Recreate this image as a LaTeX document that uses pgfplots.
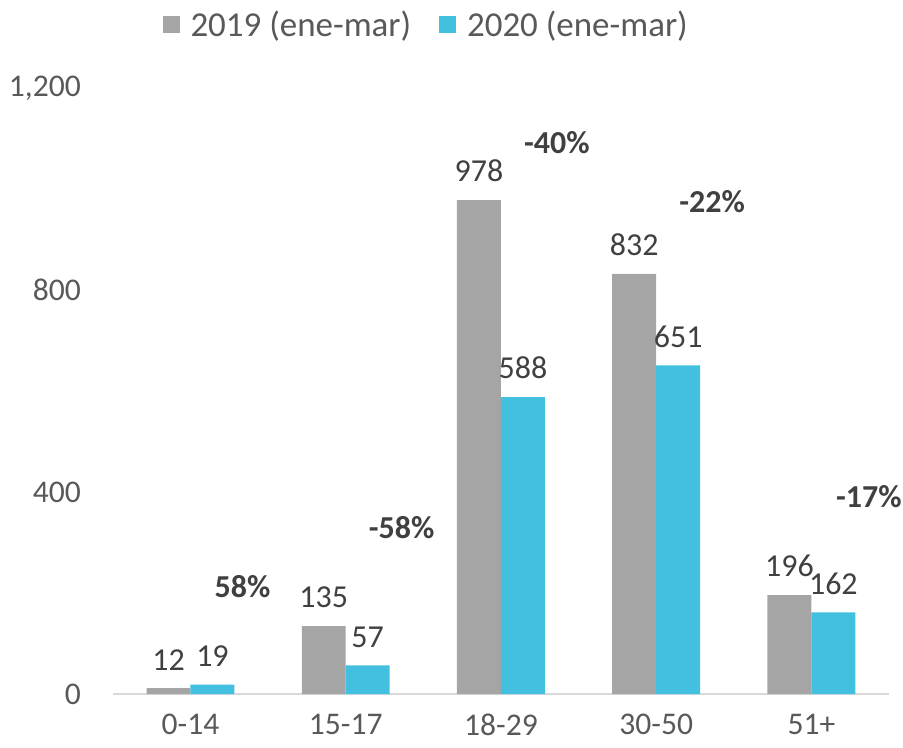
\documentclass[border=0pt]{standalone}
\usepackage{pgfplots}
\pgfplotsset{compat=1.18}
\usepackage{fontspec}
\setmainfont{Carlito}
\definecolor{bargray}{HTML}{A5A5A5}
\definecolor{barblue}{HTML}{43BFE0}
\definecolor{labeltxt}{HTML}{404040}
\definecolor{ticktxt}{HTML}{595959}
\definecolor{axisline}{HTML}{D9D9D9}
\begin{document}
\begin{tikzpicture}
\begin{axis}[
    name=ax,
    ybar=0pt,
    bar width=22pt,
    scale only axis,
    width=388.5pt,
    height=303.5pt,
    xmin=-0.5, xmax=4.5,
    ymin=0, ymax=1200,
    xtick=data,
    xticklabels={0-14,15-17,18-29,30-50,51+},
    ytick={0,400,800,1200},
    major tick length=0pt,
    axis lines*=left,
    x axis line style={axisline, line width=1pt, -},
    y axis line style={draw=none},
    /pgf/number format/assume math mode=true,
    /pgf/number format/1000 sep={,},
    tick label style={font=\fontsize{15.8}{18}\selectfont, text=ticktxt},
    xticklabel style={yshift=-6.5pt},
    yticklabel style={xshift=-12.5pt},
    nodes near coords,
    every node near coord/.append style={font=\fontsize{16}{19}\selectfont, text=labeltxt, yshift=5.5pt},
    legend style={at={(0.405,1.104)}, anchor=center, draw=none,
        font=\fontsize{17.5}{20}\selectfont, text=ticktxt,
        legend columns=2, /tikz/every even column/.append style={column sep=12pt}},
    legend image code/.code={\fill[#1] (0cm,-0.15cm) rectangle (0.3cm,0.15cm); \path (0.42cm,0);},
    clip=false,
]
\addplot[fill=bargray, draw=none] coordinates {(0,12) (1,135) (2,978) (3,832) (4,196)};
\addplot[fill=barblue, draw=none] coordinates {(0,19) (1,57) (2,588) (3,651) (4,162)};
\legend{2019 (ene-mar), 2020 (ene-mar)}
\begin{scope}[every node/.style={font=\fontsize{16}{19}\selectfont\bfseries, text=labeltxt}]
\node at (axis cs:0.335,213) {58\%};
\node at (axis cs:1.36,330) {-58\%};
\node at (axis cs:2.36,1091) {-40\%};
\node at (axis cs:3.36,974) {-22\%};
\node at (axis cs:4.37,391) {-17\%};
\end{scope}
\end{axis}
\pgfresetboundingbox
\path ([xshift=-56.5pt,yshift=-26.5pt]ax.south west) rectangle ([xshift=7pt,yshift=44pt]ax.north east);
\end{tikzpicture}
\end{document}
